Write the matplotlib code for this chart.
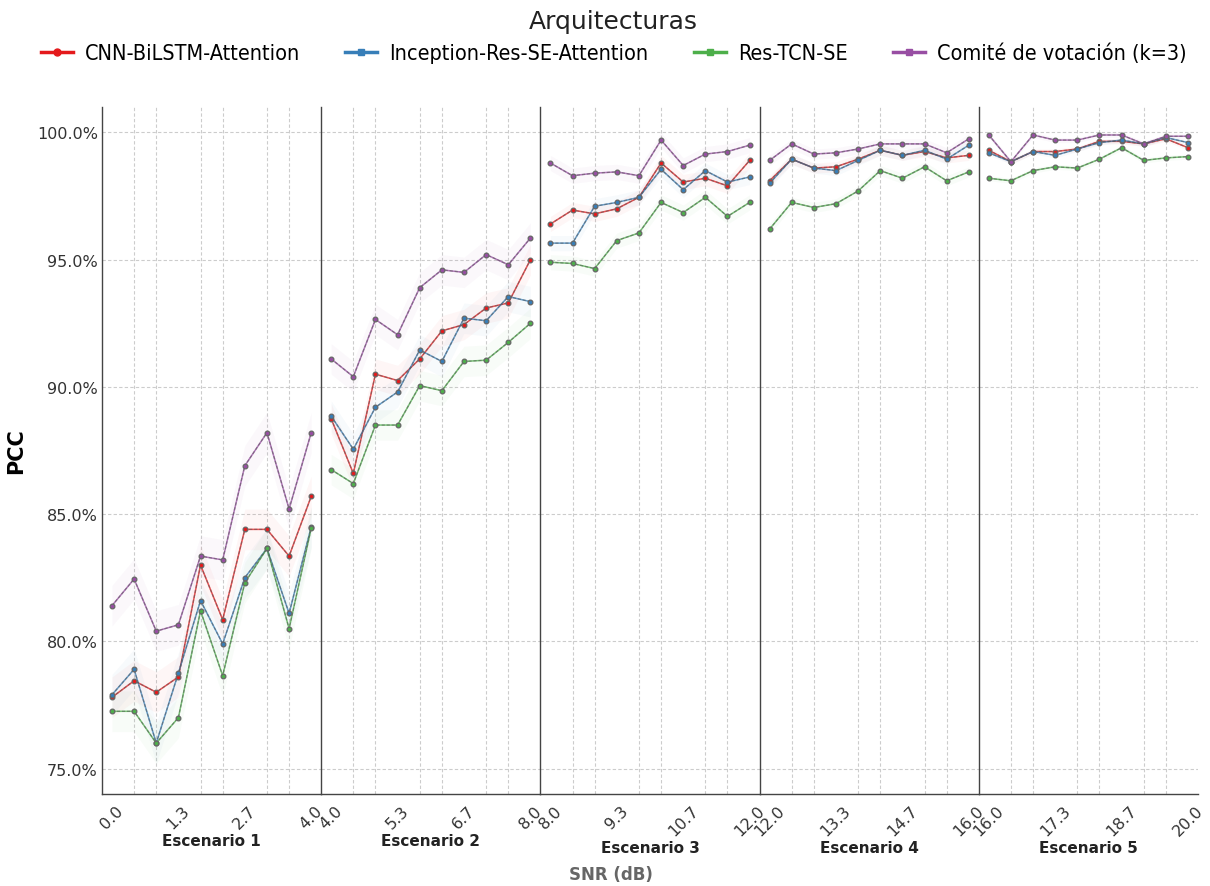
import numpy as np
import matplotlib
matplotlib.use("Agg")
import matplotlib.pyplot as plt
from matplotlib.lines import Line2D

# SNR ranges of the five scenarios (10 evaluation points each)
scenarios = ["Escenario 1", "Escenario 2", "Escenario 3", "Escenario 4", "Escenario 5"]
snr_low = [0.0, 4.0, 8.0, 12.0, 16.0]
snr_high = [4.0, 8.0, 12.0, 16.0, 20.0]
points_per_scenario = 10

models = ["CNN-BiLSTM-Attention", "Inception-Res-SE-Attention", "Res-TCN-SE", "Comité de votación (k=3)"]

# PCC (%) per scenario, one row of 10 values per scenario
pcc_cnn_bilstm = [
    [77.8, 78.45, 78.0, 78.6, 83.0, 80.85, 84.4, 84.4, 83.35, 85.7],
    [88.75, 86.6, 90.5, 90.25, 91.1, 92.2, 92.45, 93.1, 93.3, 95.0],
    [96.4, 96.95, 96.8, 97.0, 97.45, 98.8, 98.05, 98.2, 97.9, 98.9],
    [98.1, 98.95, 98.6, 98.65, 98.95, 99.3, 99.1, 99.25, 99.0, 99.1],
    [99.3, 98.85, 99.25, 99.25, 99.35, 99.65, 99.65, 99.55, 99.75, 99.4],
]
pcc_inception = [
    [77.9, 78.9, 76.0, 78.75, 81.6, 79.9, 82.5, 83.65, 81.1, 84.5],
    [88.85, 87.55, 89.2, 89.8, 91.45, 91.0, 92.7, 92.6, 93.55, 93.35],
    [95.65, 95.65, 97.1, 97.25, 97.45, 98.55, 97.75, 98.5, 98.05, 98.25],
    [98.0, 98.95, 98.6, 98.5, 98.9, 99.3, 99.1, 99.3, 98.95, 99.5],
    [99.2, 98.85, 99.25, 99.1, 99.35, 99.6, 99.7, 99.55, 99.8, 99.6],
]
pcc_restcn = [
    [77.25, 77.25, 76.0, 77.0, 81.2, 78.65, 82.3, 83.65, 80.5, 84.45],
    [86.75, 86.2, 88.5, 88.5, 90.05, 89.85, 91.0, 91.05, 91.75, 92.5],
    [94.9, 94.85, 94.65, 95.75, 96.05, 97.25, 96.85, 97.45, 96.7, 97.25],
    [96.2, 97.25, 97.05, 97.2, 97.7, 98.5, 98.2, 98.65, 98.1, 98.45],
    [98.2, 98.1, 98.5, 98.65, 98.6, 98.95, 99.4, 98.9, 99.0, 99.05],
]
pcc_ensemble = [
    [81.4, 82.45, 80.4, 80.65, 83.35, 83.2, 86.9, 88.2, 85.2, 88.2],
    [91.1, 90.4, 92.65, 92.05, 93.9, 94.6, 94.5, 95.2, 94.8, 95.85],
    [98.8, 98.3, 98.4, 98.45, 98.3, 99.7, 98.7, 99.15, 99.25, 99.5],
    [98.9, 99.55, 99.15, 99.2, 99.35, 99.55, 99.55, 99.55, 99.2, 99.75],
    [99.9, 98.85, 99.9, 99.7, 99.7, 99.9, 99.9, 99.55, 99.85, 99.85],
]
# half-width of the shaded variability band in each scenario (PCC points)
band_halfwidth = [0.8, 0.6, 0.3, 0.2, 0.1]

series = [pcc_cnn_bilstm, pcc_inception, pcc_restcn, pcc_ensemble]
colors = ["#e41a1c", "#377eb8", "#4daf4a", "#984ea3"]
markers = ["o", "s", "s", "s"]

y_ticks = [75, 80, 85, 90, 95, 100]

plt.rcParams["font.family"] = ["DejaVu Sans"]

fig = plt.figure(figsize=(12.1, 8.87), dpi=100)
left, right, bottom, top = 102 / 1210, 1198 / 1210, 1 - 795 / 887, 1 - 108 / 887
n = len(scenarios)
w = (right - left) / n
axes = []
for i in range(n):
    ax = fig.add_axes([left + i * w, bottom, w, top - bottom],
                      sharey=axes[0] if axes else None)
    axes.append(ax)

for i, ax in enumerate(axes):
    x = np.linspace(snr_low[i], snr_high[i], points_per_scenario)
    for vals, col, mk in zip(series, colors, markers):
        y = np.array(vals[i])
        ax.fill_between(x, y - band_halfwidth[i], y + band_halfwidth[i],
                        color=col, alpha=0.035, lw=0, zorder=1)
        ax.plot(x, y, color=col, lw=1.1, alpha=0.75, zorder=3)
        ax.plot(x, y, color="#555555", lw=0.9, alpha=0.55, dashes=(2.5, 1.5), zorder=4)
        ax.plot(x, y, ls="none", marker="o", ms=3.4, mfc=col, mec="#666666",
                mew=0.9, zorder=5)

    ax.set_xlim(snr_low[i] - 0.2, snr_high[i] + 0.2)
    ax.set_xticks(x, minor=True)
    ax.set_xticks(x[::3])
    ax.set_xticklabels([f"{v:.1f}" for v in x[::3]], rotation=45, ha="center",
                       fontsize=11.5, color="#333333")
    ax.tick_params(axis="x", which="both", length=0, pad=6)
    ax.grid(axis="x", which="minor", ls=(0, (3, 2)), color="#cccccc", lw=0.8)
    ax.grid(axis="y", ls=(0, (3, 2)), color="#cccccc", lw=0.8)
    ax.set_axisbelow(True)
    ax.set_xlabel(scenarios[i], fontsize=11, fontweight="bold", color="#222222",
                  labelpad=1.5)
    for s in ("top", "right"):
        ax.spines[s].set_visible(False)
    for s in ("left", "bottom"):
        ax.spines[s].set_color("#444444")
        ax.spines[s].set_linewidth(1.0)
    if i > 0:
        ax.tick_params(axis="y", which="both", left=False, labelleft=False)

axes[0].set_ylim(74.0, 101.0)
axes[0].set_yticks(y_ticks)
axes[0].set_yticklabels([f"{v:.1f}%" for v in y_ticks], fontsize=11.5, color="#333333")
axes[0].tick_params(axis="y", length=0, pad=3)
axes[0].set_ylabel("PCC", fontsize=15, fontweight="bold", labelpad=8)

fig.text(0.505, 0.0135, "SNR (dB)", ha="center", va="center", fontsize=12,
         fontweight="bold", color="#666666")

handles = [Line2D([0], [0], color=c, lw=2.5, marker=m, ms=5, mfc=c, mec=c)
           for c, m in zip(colors, markers)]
leg = fig.legend(handles, models, loc="upper center", bbox_to_anchor=(0.507, 1.003),
                 ncol=4, frameon=False, title="Arquitecturas", columnspacing=2.1,
                 handlelength=1.5, handletextpad=0.55, borderaxespad=0.2,
                 prop={"family": "DejaVu Sans", "stretch": "condensed", "size": 15.5})
leg.get_title().set_fontsize(18)
leg.get_title().set_color("#222222")
leg._legend_box.sep = 7

fig.savefig("out.png", dpi=100)
